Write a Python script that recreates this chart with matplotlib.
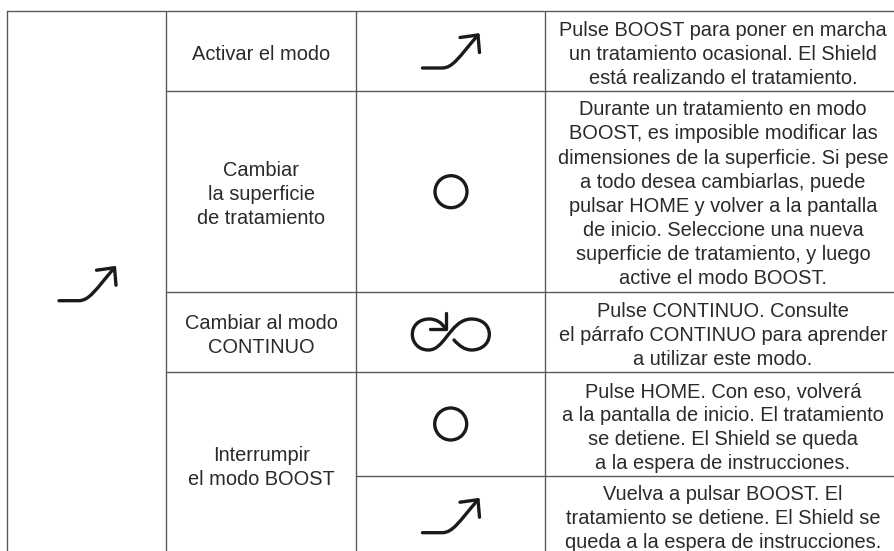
import matplotlib
matplotlib.use("Agg")
import matplotlib.pyplot as plt
from matplotlib.path import Path
from matplotlib.patches import PathPatch, Circle

W, H = 895, 551
LINE = "#555555"
INK = "#2a2a2a"
STROKE = "#1a1a1a"

# Table grid (pixel positions)
v_left = 7.5
v_col1 = 166.5
v_col2 = 356.0
v_col3 = 545.0
h_top = 11.0
h_rows = [91.0, 291.5, 372.0]
h_sub = 476.3

# Text content: (lines, first baseline)
label_cells = [
    (["Activar el modo"], 60.5),
    (["Cambiar", "la superficie", "de tratamiento"], 176.0),
    (["Cambiar al modo", "CONTINUO"], 329.3),
    (["Interrumpir", "el modo BOOST"], 461.0),
]
desc_cells = [
    (["Pulse BOOST para poner en marcha", "un tratamiento ocasional. El Shield",
      "está realizando el tratamiento."], 36.0),
    (["Durante un tratamiento en modo", "BOOST, es imposible modificar las",
      "dimensiones de la superficie. Si pese", "a todo desea cambiarlas, puede",
      "pulsar HOME y volver a la pantalla", "de inicio. Seleccione una nueva",
      "superficie de tratamiento, y luego", "active el modo BOOST."], 115.3),
    (["Pulse CONTINUO. Consulte", "el párrafo CONTINUO para aprender",
      "a utilizar este modo."], 317.0),
    (["Pulse HOME. Con eso, volverá", "a la pantalla de inicio. El tratamiento",
      "se detiene. El Shield se queda", "a la espera de instrucciones."], 397.0),
    (["Vuelva a pulsar BOOST. El", "tratamiento se detiene. El Shield se",
      "queda a la espera de instrucciones."], 500.3),
]
label_x = 261.5
desc_x = 723.0
line_step = 24.1

# Icons
arrow_starts = [(422.0, 68.0), (422.0, 532.7), (58.5, 300.7)]
circle_centers = [(451.0, 191.7), (450.7, 424.0)]
circle_radius = 16.0
inf_origin = (400.0, 280.0)

fig = plt.figure(figsize=(W / 100, H / 100), dpi=100, facecolor="white")
ax = fig.add_axes([0, 0, 1, 1])
ax.set_xlim(0, W)
ax.set_ylim(H, 0)
ax.axis("off")
plt.rcParams["font.family"] = ["Liberation Sans", "DejaVu Sans"]

lw = 0.95
for x in [v_left, v_col1, v_col2, v_col3]:
    ax.plot([x, x], [h_top, H], color=LINE, lw=lw, solid_capstyle="butt")
ax.plot([v_left, W], [h_top, h_top], color=LINE, lw=lw)
ax.plot([v_col1, W], [h_rows[0]] * 2, color=LINE, lw=lw)
ax.plot([v_col1, W], [h_rows[1]] * 2, color=LINE, lw=lw)
ax.plot([v_col1, W], [h_rows[2]] * 2, color=LINE, lw=lw)
ax.plot([v_col2, W], [h_sub, h_sub], color=LINE, lw=lw)

fs = 14.45
for lines, y0 in label_cells:
    for i, s in enumerate(lines):
        ax.text(label_x, y0 + i * line_step, s, ha="center", va="baseline", fontsize=fs, color=INK)
for lines, y0 in desc_cells:
    for i, s in enumerate(lines):
        ax.text(desc_x, y0 + i * line_step, s, ha="center", va="baseline", fontsize=fs, color=INK)

icon_lw = 2.4
def stroke(verts, codes):
    ax.add_patch(PathPatch(Path(verts, codes), fill=False, edgecolor=STROKE, lw=icon_lw,
                           capstyle="round", joinstyle="round"))

M, L, C = Path.MOVETO, Path.LINETO, Path.CURVE4
for sx, sy in arrow_starts:
    stroke([(sx + 0.5, sy), (sx + 20, sy), (sx + 31, sy), (sx + 37, sy - 11), (sx + 56, sy - 33)],
           [M, L, C, C, C])
    stroke([(sx + 38, sy - 30.5), (sx + 56, sy - 33), (sx + 57.5, sy - 15.5)], [M, L, L])

for c in circle_centers:
    ax.add_patch(Circle(c, circle_radius, fill=False, edgecolor=STROKE, lw=icon_lw))

ox, oy = inf_origin
k = 1 / 3
def P(x, y):
    return (ox + x * k, oy + y * k)

stroke([P(162, 180), P(178, 198), P(195, 210), P(215, 210),
        P(246, 210), P(268, 190), P(268, 163),
        P(268, 136), P(246, 117), P(215, 117),
        P(180, 117), P(160, 145), P(140, 170),
        P(122, 193), P(108, 210), P(85, 210),
        P(58, 210), P(37, 190), P(37, 163),
        P(37, 136), P(58, 117), P(88, 117),
        P(108, 117), P(125, 127), P(136, 146)],
       [M] + [C] * 24)
stroke([P(90, 148), P(138, 148), P(138, 100)], [M, L, L])

fig.savefig("out.png", dpi=100, facecolor="white")
